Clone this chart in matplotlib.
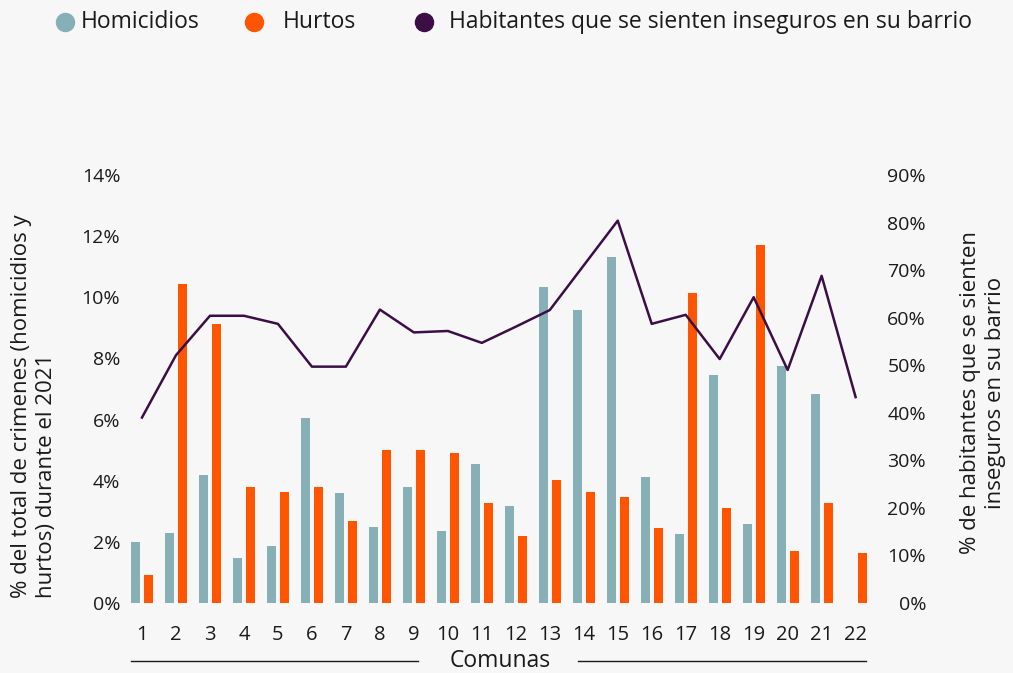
"""Crimenes por comuna (barras) vs. percepcion de inseguridad (linea)."""

import matplotlib
matplotlib.use("Agg")
import matplotlib.pyplot as plt
import numpy as np
from matplotlib.lines import Line2D
from matplotlib.ticker import FuncFormatter

plt.rcParams["font.family"] = ["Open Sans", "DejaVu Sans"]

comunas = [str(i) for i in range(1, 23)]
homicidios = [2.0, 2.29, 4.19, 1.47, 1.86, 6.05, 3.6, 2.49, 3.8, 2.36, 4.55,
              3.17, 10.34, 9.58, 11.32, 4.12, 2.26, 7.46, 2.58, 7.75, 6.84, 0.0]
hurtos = [0.92, 10.43, 9.13, 3.8, 3.63, 3.8, 2.68, 5.0, 5.0, 4.9, 3.27,
          2.19, 4.02, 3.63, 3.47, 2.45, 10.14, 3.1, 11.71, 1.7, 3.27, 1.64]
inseguros = [39.0, 52.1, 60.4, 60.4, 58.7, 49.7, 49.7, 61.7, 56.9, 57.2, 54.7,
             58.1, 61.6, 71.0, 80.4, 58.7, 60.6, 51.3, 64.3, 49.0, 68.8, 43.3]
series_names = ["Homicidios", "Hurtos", "Habitantes que se sienten inseguros en su barrio"]

C_HOM = "#86afb6"
C_HUR = "#ff5500"
C_LINE = "#3b0f46"
BG = "#f7f7f7"
TXT = "#1a1a1a"

W, H = 1013, 673
fig = plt.figure(figsize=(W / 100, H / 100), dpi=100, facecolor=BG)
ax = fig.add_axes([121.6 / W, 70 / H, (876 - 121.6) / W, 428 / H])
ax.set_facecolor(BG)

x = np.arange(len(comunas))
bw = 0.265
ax.bar(x - 0.19, homicidios, width=bw, color=C_HOM)
ax.bar(x + 0.19, hurtos, width=bw, color=C_HUR)
ax.set_xlim(-0.6, 21.6)
ax.set_ylim(0, 14)
ax.set_yticks(np.arange(0, 15, 2))
ax.yaxis.set_major_formatter(FuncFormatter(lambda v, _: f"{v:.0f}%"))
ax.set_xticks(x)
ax.set_xticklabels(comunas)

ax2 = ax.twinx()
ax2.plot(x, inseguros, color=C_LINE, linewidth=1.8)
ax2.set_ylim(0, 90)
ax2.set_yticks(np.arange(0, 91, 10))
ax2.yaxis.set_major_formatter(FuncFormatter(lambda v, _: f"{v:.0f}%"))

for a in (ax, ax2):
    for s in a.spines.values():
        s.set_visible(False)
    a.tick_params(length=0, labelsize=14, colors=TXT)
ax.tick_params(axis="y", pad=1)
ax.tick_params(axis="x", pad=16, labelsize=14.5)
ax2.tick_params(axis="y", pad=36)
for lbl in ax2.get_yticklabels():
    lbl.set_horizontalalignment("right")

# axis titles
fig.text(34 / W, 1 - 406 / H, "% del total de crimenes (homicidios y\nhurtos) durante el 2021",
         rotation=90, ha="center", va="center", multialignment="left",
         fontsize=16, color=TXT, linespacing=1.25)
fig.text(983 / W, 1 - 393 / H, "% de habitantes que se sienten\ninseguros en su barrio",
         rotation=90, ha="center", va="center", multialignment="center",
         fontsize=16, color=TXT, linespacing=1.25)

# "Comunas" label with rules either side
yl = 1 - 661 / H
fig.text(500 / W, yl, "Comunas", ha="center", va="center", fontsize=16.5, color=TXT)
fig.add_artist(Line2D([131 / W, 418 / W], [yl, yl], color=TXT, linewidth=1))
fig.add_artist(Line2D([578 / W, 866 / W], [yl, yl], color=TXT, linewidth=1))

# legend row at the top
ly = 1 - 22 / H
for name, col, mx, tx in zip(series_names, [C_HOM, C_HUR, C_LINE],
                             [65, 254, 424], [81, 283, 449]):
    fig.add_artist(Line2D([mx / W], [ly], marker="o", markersize=13,
                          color=col, linestyle=""))
    fig.text(tx / W, ly, name, ha="left", va="center", fontsize=16.5, color=TXT)

fig.savefig("out.png", dpi=100, facecolor=BG)
